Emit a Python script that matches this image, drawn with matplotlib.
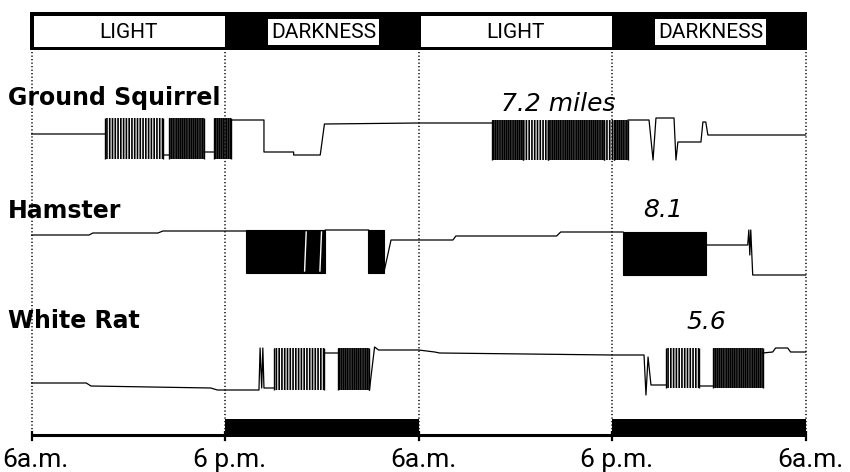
import matplotlib
matplotlib.use("Agg")
import matplotlib.pyplot as plt
from matplotlib.patches import Rectangle
import numpy as np

nan = np.nan

# ---------------- data ----------------
# time axis: hours after 6 a.m. of the first day
tick_hours = [0, 12, 24, 36, 48]
tick_labels = ["6a.m.", "6 p.m.", "6a.m.", "6 p.m.", "6a.m."]

period_starts = [0, 12, 24, 36]
period_ends = [12, 24, 36, 48]
period_labels = ["LIGHT", "DARKNESS", "LIGHT", "DARKNESS"]
period_dark = [False, True, False, True]

species = ["Ground Squirrel", "Hamster", "White Rat"]
distance_labels = ["7.2 miles", "8.1", "5.6"]

# recording pen traces (hours, pen deflection); NaN = inside a running burst
squirrel_t = [0, 4.57, nan, 8.14, 8.55, nan, 10.69, 11.29, nan, 12.38, 14.41, 14.41,
              16.25, 16.25, 17.90, 18.16, 24.0, 28.56, nan, 36.99, 38.29, 38.54, 38.72,
              39.84, 39.96, 40.08, 41.38, 41.51, 41.63, 41.81, 41.94, 48]
squirrel_d = [0, 0, nan, -21, -21, nan, -18, -18, nan, 14, 14, -18,
              -18, -21, -21, 10, 11, 11, nan, 14, 14, -26, 16,
              16, -26, -8, -8, -8, 12, 12, -1, -1]

hamster_t = [0, 3.56, 3.80, 7.84, 8.14, 13.27, nan, 18.22, 20.89, nan, 21.84, 22.29,
             24.0, 26.13, 26.31, 32.56, 32.81, 36.68, nan, 41.81, 44.41, 44.48, 44.54,
             44.60, 44.72, 48]
hamster_d = [0, 0, 2, 2, 4, 4, nan, 5, 5, nan, -38, -5,
             -5, -5, -1, -1, 3, 3, nan, -10, -10, 5, -20,
             5, -40, -40]

rat_t = [0, 3.39, 3.68, 11.11, 11.52, 14.10, 14.17, 14.27, 14.34, 14.41, 15.05, nan,
         18.16, 18.98, nan, 20.95, 21.27, 21.52, 24.0, 25.0, 25.3, 36.0, 37.98, 38.10,
         38.23, 38.41, 39.34, nan, 41.38, 42.25, nan, 45.34, 45.96, 46.14, 46.89, 47.07, 48]
rat_d = [0, 0, -3, -5, -7, -7, 35, -5, 35, -5, -5, nan,
         30, 30, nan, -7, 36, 33, 33, 31, 30, 28, 28, -12,
         26, -2, -2, nan, -3, -3, nan, 30, 31, 35, 35, 31, 31]

# running bursts: start h, end h, top deflection, bottom deflection, kind
squirrel_burst_start = [4.57, 8.55, 11.29, 28.56, 30.5, 32.0, 35.5, 36.12]
squirrel_burst_end = [8.14, 10.69, 12.38, 30.5, 32.0, 35.5, 36.12, 36.99]
squirrel_burst_top = [16, 16, 16, 14, 14, 14, 14, 14]
squirrel_burst_bottom = [-25, -25, -25, -26, -26, -26, -26, -26]
squirrel_burst_kind = ["sparse", "dense", "dense", "dense", "sparse", "dense", "sparse", "dense"]

hamster_burst_start = [13.27, 20.89, 36.68]
hamster_burst_end = [18.22, 21.84, 41.81]
hamster_burst_top = [5, 5, 3]
hamster_burst_bottom = [-38, -38, -40]
hamster_burst_kind = ["solid", "solid", "solid"]
hamster_gaps = [16.98, 17.93]

rat_burst_start = [15.05, 18.98, 39.34, 42.25]
rat_burst_end = [18.16, 20.95, 41.38, 45.34]
rat_burst_top = [35, 35, 35, 35]
rat_burst_bottom = [-7, -7, -5, -5]
rat_burst_kind = ["sparse", "dense", "sparse", "dense"]

# ---------------- layout helpers ----------------
W, H = 850, 472
PX0 = 31.6
PX_PER_H = 16.125


def X(px):
    return (px - PX0) / PX_PER_H


def Y(py):
    return H - py


plt.rcParams["hatch.linewidth"] = 1.2
fig = plt.figure(figsize=(W / 100, H / 100), dpi=100)
ax = fig.add_axes([0, 0, 1, 1])
ax.set_xlim(X(0), X(W))
ax.set_ylim(0, H)
ax.axis("off")

LIGHT_FONT = dict(family=["Roboto", "DejaVu Sans"], fontweight="normal")
BOLD_FONT = dict(family=["DejaVu Sans"], fontweight="bold")

# ---------------- top light/dark bar ----------------
bar_top, bar_bot = Y(12), Y(50)
ax.add_patch(Rectangle((-0.1, bar_bot), 48.2, bar_top - bar_bot,
                       fc="black", ec="none", zorder=2))
for s, e, lab, dark in zip(period_starts, period_ends, period_labels, period_dark):
    c = (s + e) / 2
    if not dark:
        ax.add_patch(Rectangle((s + 0.15, Y(47)), e - s - 0.15, Y(16) - Y(47),
                               fc="white", ec="none", zorder=3))
        ax.text(c, Y(32), lab, ha="center", va="center", fontsize=15,
                color="black", zorder=4, **LIGHT_FONT)
    else:
        ax.text(c + 0.1, Y(32), lab, ha="center", va="center", fontsize=15,
                color="black", zorder=4,
                bbox=dict(boxstyle="square,pad=0.15", fc="white", ec="none"),
                **LIGHT_FONT)

# ---------------- dotted time dividers ----------------
for h in tick_hours:
    ax.plot([h, h], [Y(52), Y(432)], color="black", lw=1.1,
            linestyle=(0, (0.8, 1.5)), zorder=1)

# ---------------- bottom bar + ticks ----------------
for s, e, dark in zip(period_starts, period_ends, period_dark):
    if dark:
        ax.add_patch(Rectangle((s, Y(437)), e - s, Y(419) - Y(437),
                               fc="black", ec="none", zorder=2))
    else:
        ax.plot([s, e], [Y(435), Y(435)], color="black", lw=2.2, zorder=2,
                solid_capstyle="butt")
for h in tick_hours:
    ax.plot([h, h], [Y(432), Y(440)], color="black", lw=1.6, zorder=2)
for i, (h, lab) in enumerate(zip(tick_hours, tick_labels)):
    if i == 0:
        ax.text(X(2), Y(467), lab, ha="left", va="baseline", fontsize=19,
                **LIGHT_FONT)
    else:
        ax.text(h + 0.3, Y(467), lab, ha="center", va="baseline", fontsize=19,
                **LIGHT_FONT)

# ---------------- traces ----------------
row_base = [Y(134), Y(235), Y(383)]
traces = [(squirrel_t, squirrel_d), (hamster_t, hamster_d), (rat_t, rat_d)]
bursts = [
    (squirrel_burst_start, squirrel_burst_end, squirrel_burst_top, squirrel_burst_bottom, squirrel_burst_kind),
    (hamster_burst_start, hamster_burst_end, hamster_burst_top, hamster_burst_bottom, hamster_burst_kind),
    (rat_burst_start, rat_burst_end, rat_burst_top, rat_burst_bottom, rat_burst_kind),
]
hatch_for = {"sparse": "|" * 6, "dense": "|" * 9}

for base, (t, d), (bs, be, bt, bb, bk) in zip(row_base, traces, bursts):
    t = np.array(t, dtype=float)
    d = np.array(d, dtype=float)
    ax.plot(t, base + d, color="black", lw=0.9, zorder=5)
    for s, e, top, bot, kind in zip(bs, be, bt, bb, bk):
        if kind == "solid":
            ax.add_patch(Rectangle((s, base + bot), e - s, top - bot,
                                   fc="black", ec="black", lw=0.8, zorder=5))
        else:
            ax.add_patch(Rectangle((s, base + bot), e - s, top - bot,
                                   fc="none", ec="black", lw=0, hatch=hatch_for[kind],
                                   zorder=5))
            ax.vlines([s, e], base + bot, base + top, color="black", lw=1.0, zorder=5)

# white gaps inside the first hamster block
for g in hamster_gaps:
    ax.plot([g - 0.05, g + 0.05], [row_base[1] - 36, row_base[1] + 3],
            color="white", lw=1.0, zorder=6)

# ---------------- labels ----------------
label_y = [Y(105), Y(218), Y(328)]
for name, yy in zip(species, label_y):
    ax.text(X(8), yy, name, ha="left", va="baseline", fontsize=17, **BOLD_FONT)

dist_x = [X(558), X(663), X(706)]
dist_y = [Y(104), Y(210), Y(322)]
for lab, xx, yy in zip(distance_labels, dist_x, dist_y):
    ax.text(xx, yy, lab, ha="center", va="center", fontsize=18, style="italic",
            family=["DejaVu Sans"])

fig.savefig("out.png", dpi=100)
